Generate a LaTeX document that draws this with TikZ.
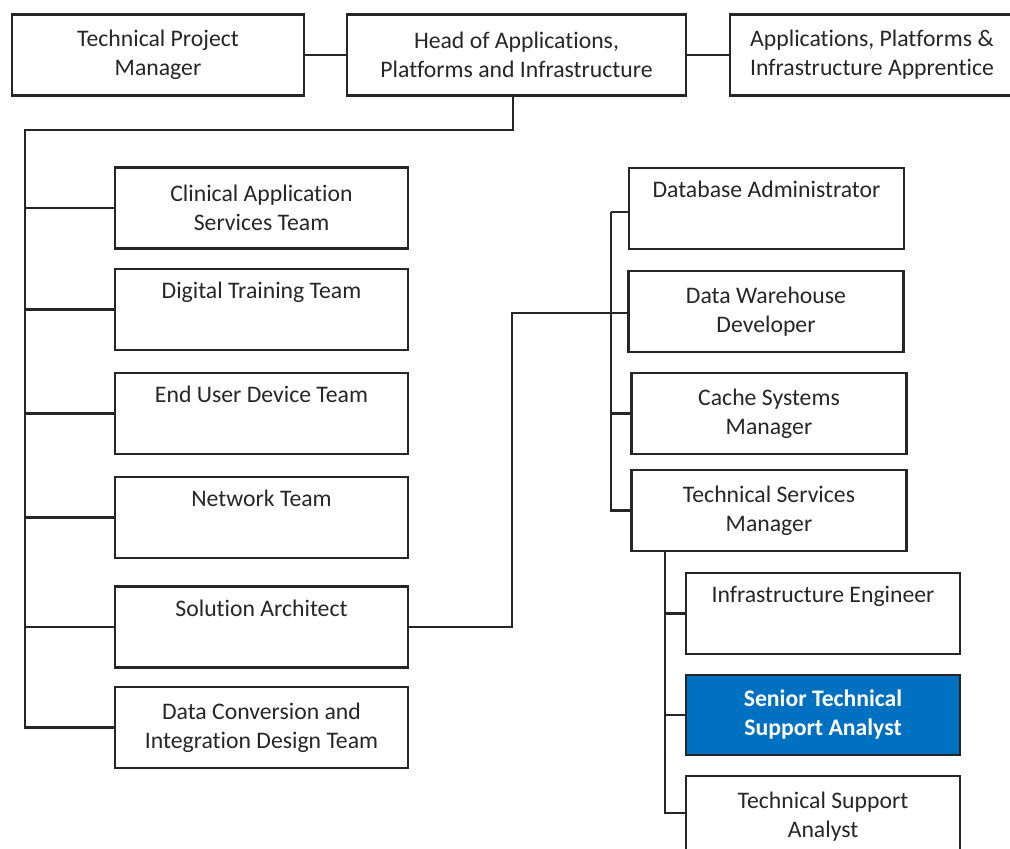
\documentclass[tikz,border=0pt]{standalone}
\usepackage{fontspec}
\setmainfont{Carlito}[RawFeature={-liga;-clig;-calt;-dlig}]
\usetikzlibrary{calc}
\usetikzlibrary{positioning}

\definecolor{seniorblue}{HTML}{0070C0}

\begin{document}
\begin{tikzpicture}[
    role/.style={rectangle, draw=black!85, line width=1.25pt, align=center, inner sep=0pt, minimum height=1.62cm, font=\fontsize{13.5}{16.5}\selectfont, text=black!85},
    lrole/.style={role, minimum width=5.86cm},
    rrole/.style={role, minimum width=5.5cm},
    srole/.style={role, minimum width=5.48cm},
    link/.style={draw=black!85, line width=1.25pt}
    ]
        \useasboundingbox (0,0) rectangle (20.2,-16.98);

        % top row
        \node[role, minimum width=6.78cm] (head) at (10.33,-1.1) {Head of Applications,\\Platforms and Infrastructure};
        \node[role, minimum width=5.84cm] (tpm) at ($(head) + (-7.17,0)$) {Technical Project\\Manager};
        \node[role, minimum width=5.68cm] (appr) at ($(head) + (7.11,0)$) {Applications, Platforms \&\\Infrastructure Apprentice};

        % top row links
        \draw[link] (tpm) -- (head);
        \draw[link] (head) -- (appr);

        % teams
        \node[lrole] (clin) at ($(head) + (-5.1,-3.06)$) {Clinical Application\\Services Team};
        \node[lrole] (digi) at ($(clin) + (0,-2.03)$) {Digital Training Team\\\strut};
        \node[lrole] (eud) at ($(digi) + (0,-2.08)$) {End User Device Team\\\strut};
        \node[lrole] (net) at ($(eud) + (0,-2.08)$) {Network Team\\\strut};
        \node[lrole] (sol) at ($(net) + (0,-2.19)$) {Solution Architect\\\strut};
        \node[lrole] (dci) at ($(sol) + (0,-2.01)$) {Data Conversion and\\Integration Design Team};

        % head to teams
        \coordinate (lbus) at (0.5,-2.6);
        \draw[link] ($(head.south) + (-0.07,0)$) |- (lbus) |- (dci.west);
        \draw[link] (lbus |- clin.west) -- (clin.west);
        \draw[link] (lbus |- digi.west) -- (digi.west);
        \draw[link] (lbus |- eud.west) -- (eud.west);
        \draw[link] (lbus |- net.west) -- (net.west);
        \draw[link] (lbus |- sol.west) -- (sol.west);

        % solution architect reports
        \node[rrole] (dba) at ($(clin) + (10.1,-0.01)$) {Database Administrator\\\strut};
        \node[rrole] (dwd) at ($(dba) + (-0.01,-2.06)$) {Data Warehouse\\Developer};
        \node[rrole] (csm) at ($(dwd) + (0.06,-2.04)$) {Cache Systems\\Manager};
        \node[rrole] (tsm) at ($(csm) + (0,-1.94)$) {Technical Services\\Manager};

        % solution architect to reports
        \coordinate (mid) at (10.24,-6.26);
        \coordinate (rbus) at (12.22,-4.24);
        \draw[link] (sol.east) -| (mid) -- (mid -| dwd.west);
        \draw[link] (rbus) -- (dba.west |- rbus);
        \draw[link] (rbus) |- (tsm.west);
        \draw[link] (rbus |- csm.west) -- (csm.west);

        % technical services team
        \node[srole] (ie) at ($(tsm) + (1.08,-2.06)$) {Infrastructure Engineer\\\strut};
        \node[srole, fill=seniorblue, text=white, font=\fontsize{13.5}{16.5}\selectfont\bfseries, minimum height=1.6cm] (stsa) at ($(ie) + (0,-2.03)$) {Senior Technical\\Support Analyst};
        \node[srole] (tsa) at ($(stsa) + (0,-2.03)$) {Technical Support\\Analyst};

        % technical services manager to team
        \coordinate (sbus) at (13.3,-16.26);
        \draw[link] (tsm.south -| sbus) -- (sbus) -- (sbus -| tsa.west);
        \draw[link] (sbus |- ie.west) -- (ie.west);
        \draw[link] (sbus |- stsa.west) -- (stsa.west);

    \end{tikzpicture}
\end{document}
